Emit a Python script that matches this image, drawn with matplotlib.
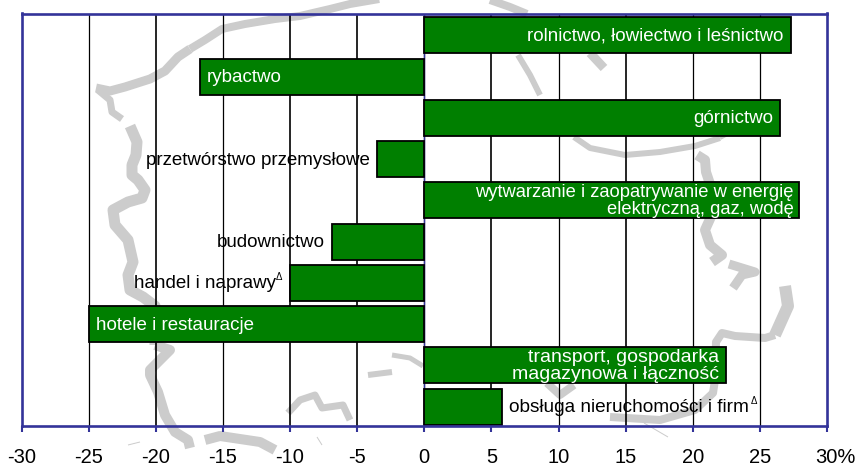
import matplotlib
matplotlib.use("Agg")
import matplotlib.pyplot as plt
import matplotlib.transforms as mtrans

plt.rcParams['font.family'] = ['Liberation Sans', 'DejaVu Sans']

W, H = 857, 468
BLUE = "#333399"
GREEN = "#007F00"
GRAY = "#CCCCCC"

values = [27.3, -16.7, 26.5, -3.5, 27.9, -6.9, -10, -25, 22.5, 5.8]
labels = ["rolnictwo, łowiectwo i leśnictwo", "rybactwo", "górnictwo",
          "przetwórstwo przemysłowe",
          "wytwarzanie i zaopatrywanie w energię\nelektryczną, gaz, wodę",
          "budownictwo", "handel i naprawy", "hotele i restauracje",
          "transport, gospodarka\nmagazynowa i łączność",
          "obsługa nieruchomości i firm"]
inside = [True, True, True, False, True, False, False, True, True, False]
marked = [False, False, False, False, False, False, True, False, False, True]
xticks = list(range(-30, 31, 5))
xticklabels = [str(t) for t in xticks[:-1]] + ["30%"]
thick_grid = [-20, -10, -5, 5, 15]

# some labels are a bit wider or narrower in the original
font_fix = {4: 13.2, 8: 14, 9: 13.7}

# background map of Poland, traced in pixels: (points, width in px)
coast_a = [(96, 88), (110, 91), (125, 87), (150, 79), (165, 71), (178, 57), (190, 49)]
coast_b = [(190, 49), (205, 40), (222, 29), (245, 24), (275, 19), (300, 16), (330, 9), (350, 4), (385, -2)]
west_a = [(98, 90), (110, 100), (112, 112), (122, 119)]
west_b = [(130, 126), (137, 142), (136, 155), (132, 165), (132, 175), (138, 180), (145, 190),
          (142, 198), (128, 202), (113, 210), (115, 225), (128, 240), (133, 262), (128, 275),
          (130, 290), (143, 297), (155, 306), (155, 345)]
west_c = [(155, 345), (170, 350), (160, 360), (150, 370), (150, 375), (158, 392), (165, 415),
          (175, 432), (188, 440), (190, 448)]
south_a = [(205, 440), (220, 436), (260, 442), (275, 450)]
south_b = [(288, 413), (300, 400), (315, 395), (322, 408), (343, 405), (350, 420)]
south_c = [(368, 375), (392, 372)]
south_d = [(392, 355), (410, 358), (423, 366)]
north_a = [(490, 0), (510, 7), (527, 14)]
north_b = [(518, 55), (530, 75), (540, 95)]
north_c = [(590, 53), (604, 68)]
arc = [(574, 137), (590, 148), (625, 155), (660, 152), (695, 146), (720, 138)]
arc_end = [(720, 138), (750, 122), (775, 105)]
east_a = [(697, 155), (705, 160), (706, 172), (712, 190), (714, 210), (705, 230), (710, 245),
          (722, 255), (712, 262)]
east_b = [(729, 264), (755, 272), (742, 275), (733, 288)]
east_c = [(785, 286), (788, 306), (775, 335)]
east_d = [(775, 335), (765, 338), (735, 336), (722, 333), (716, 342), (715, 380), (713, 393),
          (695, 410), (660, 420), (610, 417)]
east_e = [(547, 383), (560, 395), (574, 385)]
thin_a = [(128, 445), (140, 442)]
thin_b = [(317, 437), (322, 445)]
thin_c = [(644, 423), (668, 437)]

map_parts = [(coast_a, 9), (coast_b, 8), (west_a, 7), (west_b, 11), (west_c, 10), (south_a, 10),
             (south_b, 7), (south_c, 6), (south_d, 5), (north_a, 8), (north_b, 6), (north_c, 9),
             (arc, 6), (arc_end, 4), (east_a, 10), (east_b, 9), (east_c, 12), (east_d, 8),
             (east_e, 8), (thin_a, 1), (thin_b, 1), (thin_c, 1)]

fig = plt.figure(figsize=(W / 100, H / 100), dpi=100)

bg = fig.add_axes([0, 0, 1, 1], zorder=0)
bg.set_xlim(0, W)
bg.set_ylim(H, 0)
bg.axis("off")
for pts, w in map_parts:
    bg.plot([p[0] for p in pts], [p[1] for p in pts], color=GRAY, lw=w * 0.72,
            solid_joinstyle="round", solid_capstyle="butt")

left, right, top, bottom = 21.5, 827, 13.5, 426
ax = fig.add_axes([left / W, 1 - bottom / H, (right - left) / W, (bottom - top) / H], zorder=1)
ax.patch.set_alpha(0)
ax.set_xlim(-30, 30)
ax.set_ylim(len(values) - 0.53, -0.53)

for t in xticks[1:-1]:
    ax.axvline(t, color="black", lw=1.2 if t in thick_grid else 0.9, zorder=1)
ax.axvline(0, color=BLUE, lw=1, zorder=1)

pos = range(len(values))
ax.barh(pos, values, height=0.87, color=GREEN, edgecolor="black", lw=1.3, zorder=2)

for i, v in enumerate(values):
    sign = 1 if v > 0 else -1
    if inside[i]:
        # text sits inside the bar, at its outer end
        off = -sign * 7
        color = "white"
    else:
        off = sign * 7
        color = "black"
    if i == 4:
        off = -5
    if marked[i] and v < 0:
        off = -14
    ha = "right" if off < 0 else "left"
    ax.annotate(labels[i], (v, i), xytext=(off, -1), textcoords="offset pixels",
                ha=ha, va="center", color=color, fontsize=font_fix.get(i, 13.5),
                linespacing=1.0, zorder=3)
    if marked[i]:
        dx = -8 if v < 0 else 249
        ax.annotate("Δ", (v, i), xytext=(dx, 6), textcoords="offset pixels",
                    ha="right" if v < 0 else "left", va="center", fontsize=7, zorder=3)

ax.set_yticks([])
ax.set_xticks(xticks)
ax.set_xticklabels(xticklabels, fontsize=14.5)
ax.tick_params(axis="x", color=BLUE, width=1.5, length=4, pad=12)
last = ax.get_xticklabels()[-1]
last.set_transform(last.get_transform() + mtrans.ScaledTranslation(8 / 100, 0, fig.dpi_scale_trans))
for s in ax.spines.values():
    s.set_color(BLUE)
    s.set_linewidth(1.9)
    s.set_zorder(4)

fig.savefig("out.png", dpi=100)
